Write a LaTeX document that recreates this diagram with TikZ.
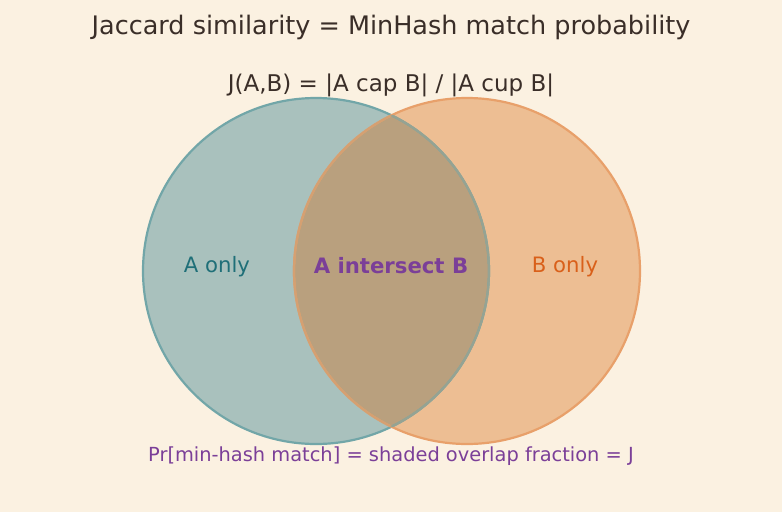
\documentclass[tikz,border=0pt]{standalone}
\usepackage{fontspec}
\setmainfont{DejaVu Sans}
\begin{document}
\begin{tikzpicture}[x=1pt,y=-1pt,
  lbl/.style={inner sep=0pt, anchor=center},
  ring/.style={line width=2.2pt}]
\definecolor{bg}{HTML}{FBF1E1}
\definecolor{afill}{HTML}{A9C1BD}
\definecolor{bfill}{HTML}{EDBE93}
\definecolor{abfill}{HTML}{B9A07E}
\definecolor{aedge}{HTML}{72A6A8}
\definecolor{bedge}{HTML}{E8A06A}
\definecolor{ink}{HTML}{3A2E28}
\definecolor{teal}{HTML}{1F6F78}
\definecolor{orng}{HTML}{D9601A}
\definecolor{purp}{HTML}{7B3F98}
\fill[bg] (0,0) rectangle (782,512);
\useasboundingbox (0,0) rectangle (782,512);
\fill[afill] (316,271) circle (173);
\fill[bfill] (467,271) circle (173);
\begin{scope}
  \clip (316,271) circle (173);
  \fill[abfill] (467,271) circle (173);
\end{scope}
\draw[ring,aedge] (316,271) circle (173);
\draw[ring,bedge] (467,271) circle (173);
\begin{scope}
  \clip (316,271) circle (173);
  \draw[ring,bedge!60!abfill] (467,271) circle (173);
\end{scope}
\begin{scope}
  \clip (467,271) circle (173);
  \draw[ring,aedge!50!abfill] (316,271) circle (173);
\end{scope}
\node[lbl,ink,font=\fontsize{25.5}{30}\selectfont] (title) at (391,27) {Jaccard similarity = MinHash match probability};
\node[lbl,ink,font=\fontsize{23}{27}\selectfont] (sub) at (391,85.5) {J(A,B) = |A cap B| / |A cup B|};
\node[lbl,teal,font=\fontsize{21.2}{25}\selectfont] (aonly) at (217,266.5) {A only};
\node[lbl,purp,font=\fontsize{21.2}{25}\selectfont\bfseries] (ab) at (391,266) {A intersect B};
\node[lbl,orng,font=\fontsize{21.2}{25}\selectfont] (bonly) at (565,266.5) {B only};
\node[lbl,purp,font=\fontsize{19.4}{23}\selectfont] (note) at (391,456) {Pr[min-hash match] = shaded overlap fraction = J};
\end{tikzpicture}
\end{document}
